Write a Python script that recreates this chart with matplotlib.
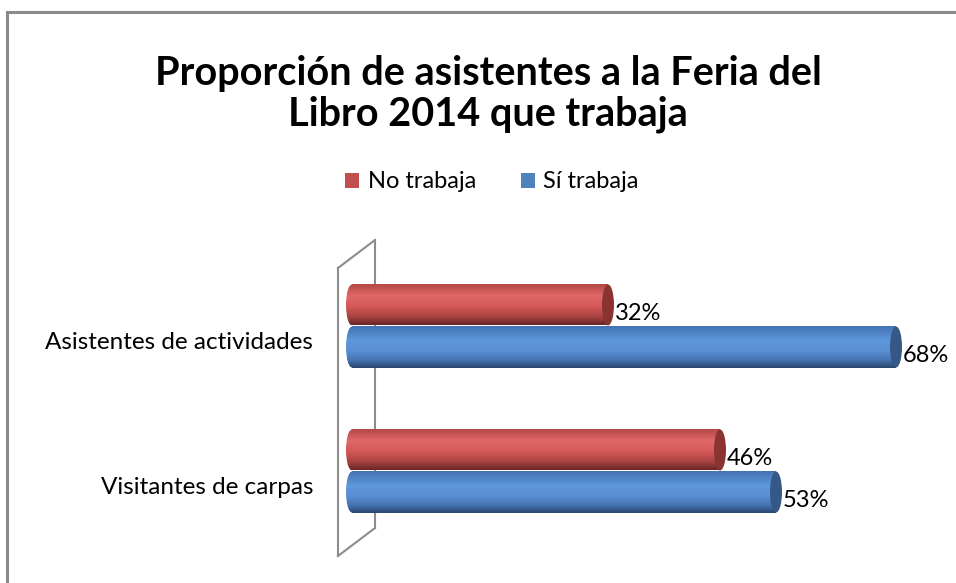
import matplotlib.pyplot as plt
import numpy as np
from matplotlib.colors import LinearSegmentedColormap
from matplotlib.lines import Line2D
from matplotlib.patches import Ellipse, Patch

plt.rcParams["font.family"] = ["Lato", "DejaVu Sans"]

# data
categories = ["Visitantes de carpas", "Asistentes de actividades"]
series_names = ["No trabaja", "Sí trabaja"]
no_trabaja = [46, 32]
si_trabaja = [53, 68]
title = "Proporción de asistentes a la Feria del\nLibro 2014 que trabaja"

W, H = 956, 583
RED = "#c0504d"
BLUE = "#4f81bd"

# vertical shading for the cylinders (top -> bottom)
red_cmap = LinearSegmentedColormap.from_list(
    "red_cyl", [(0, "#b04543"), (0.3, "#e06868"), (0.55, "#d55a58"),
                (0.8, "#a94442"), (1, "#6a2625")])
blue_cmap = LinearSegmentedColormap.from_list(
    "blue_cyl", [(0, "#4373b2"), (0.35, "#5f98dd"), (0.6, "#5a8fd2"),
                 (0.82, "#4673b0"), (1, "#294670")])


def fx(px):
    return px / W


def fy(py):
    return 1 - py / H


fig = plt.figure(figsize=(W / 100, H / 100), dpi=100)
ax = fig.add_axes([fx(340), 1 - 570 / H, 610 / W, 340 / H])
ax.patch.set_visible(False)

bar_h = 0.283
offset = 0.145
cap_w = 1.5
grad = np.linspace(0, 1, 64).reshape(-1, 1)

y = np.arange(len(categories))


def cylinder(ypos, value, cmap, cap_color):
    rect = ax.barh(ypos, value, height=bar_h, color="none", edgecolor="none")[0]
    y0, y1 = ypos - bar_h / 2, ypos + bar_h / 2
    im = ax.imshow(grad, cmap=cmap, aspect="auto", extent=[-cap_w, value, y0, y1],
                   origin="upper", zorder=2)
    im.set_clip_path(rect)
    left = Ellipse((0, ypos), cap_w, bar_h, facecolor="none", edgecolor="none")
    ax.add_patch(left)
    im2 = ax.imshow(grad, cmap=cmap, aspect="auto", extent=[-cap_w, value, y0, y1],
                    origin="upper", zorder=2)
    im2.set_clip_path(left)
    ax.add_patch(Ellipse((value, ypos), cap_w, bar_h, facecolor=cap_color,
                         edgecolor="none", zorder=3))
    ax.text(value + 0.85, ypos - 0.06, f"{value}%", ha="left", va="center",
            fontsize=17, color="black", zorder=4)


for i in y:
    cylinder(i + offset, no_trabaja[i], red_cmap, "#8a3432")
    cylinder(i - offset, si_trabaja[i], blue_cmap, "#355887")

ax.set_xlim(-1.5, 74.75)
ax.set_ylim(-0.683, 1.662)
ax.set_autoscale_on(False)
ax.axis("off")

for i, cat in zip(y, categories):
    ax.text(-0.044, i - 0.115, cat, transform=ax.get_yaxis_transform(),
            ha="right", va="center", fontsize=17.5, color="black")

# 3-D wall behind the bars
wall = [((338, 268), (338, 556)), ((375, 240), (375, 528)),
        ((338, 268), (375, 240)), ((338, 556), (375, 528))]
for (xa, ya), (xb, yb) in wall:
    fig.add_artist(Line2D([fx(xa), fx(xb)], [fy(ya), fy(yb)], color="#8c8c8c",
                          lw=1.5, zorder=-1))

# chart frame (only top and left edges visible)
fig.add_artist(Line2D([fx(7), fx(7)], [fy(12), 0], color="#8a8a8a", lw=2.2))
fig.add_artist(Line2D([fx(7), 1], [fy(12), fy(12)], color="#8a8a8a", lw=2.2))

fig.text(fx(488), fy(94), title, ha="center", va="center", fontsize=28.5,
         fontweight="bold", linespacing=1.1)

handles = [Patch(facecolor=RED, edgecolor="none"), Patch(facecolor=BLUE, edgecolor="none")]
fig.legend(handles, series_names, loc="center", bbox_to_anchor=(fx(492), fy(182)),
           ncol=2, frameon=False, fontsize=17, handlelength=0.6, handleheight=0.6,
           handletextpad=0.35, columnspacing=1.9)

fig.savefig("out.png", dpi=100)
